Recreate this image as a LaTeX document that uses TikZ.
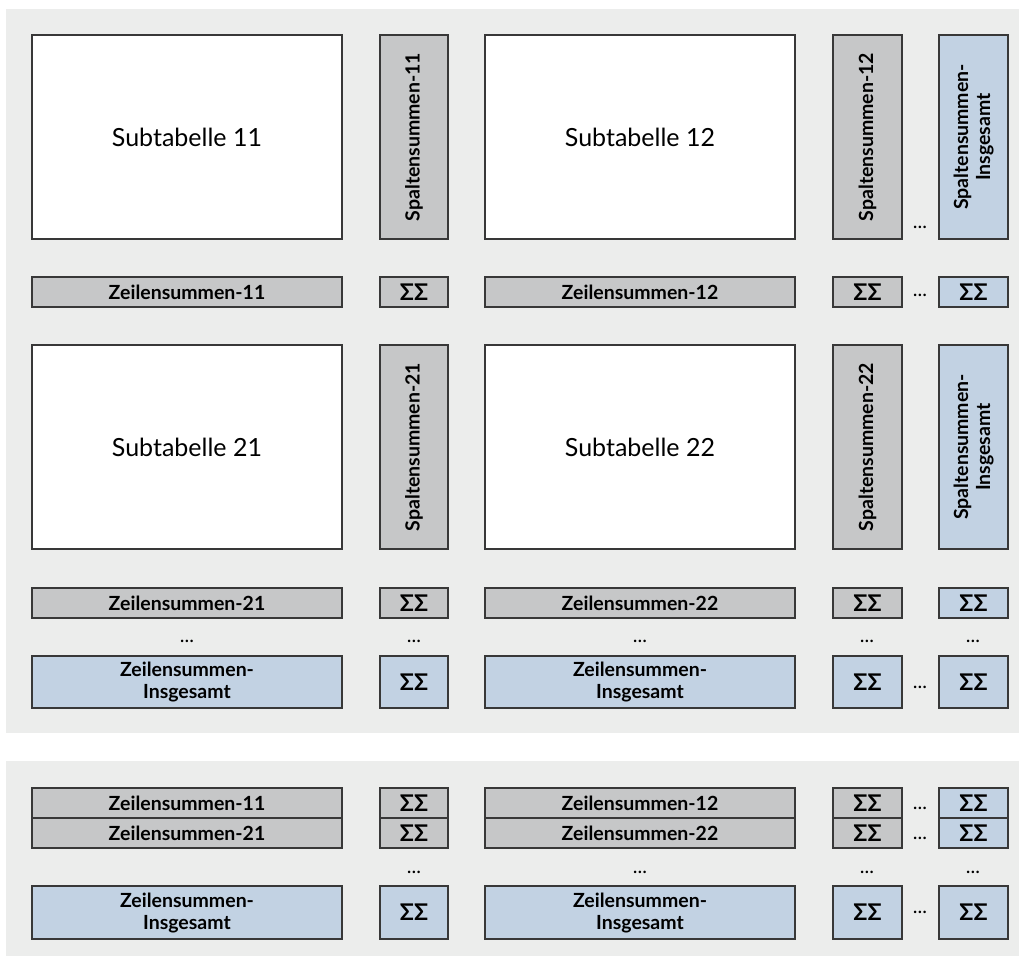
\documentclass[tikz,border=0pt]{standalone}
\usepackage{fontspec}
\setmainfont{Lato}
\definecolor{panel}{HTML}{ECEDEC}
\definecolor{grayfill}{HTML}{C6C7C8}
\definecolor{bluefill}{HTML}{C2D2E3}
\definecolor{edge}{HTML}{383838}
\newcommand{\bxn}[7]{\node[#6, minimum width={#4-#2}, minimum height={#5-#3}] (#1) at ({(#2+#4)/2},{(#3+#5)/2}) {#7};}
\newcommand{\vbxn}[7]{\node[#6, rotate=90, minimum width={#5-#3}, minimum height={#4-#2}] (#1) at ({(#2+#4)/2},{(#3+#5)/2}) {#7};}
\newcommand{\sg}{{\fontsize{23}{23}\selectfont ΣΣ}}
\tikzset{
  boxbase/.style={draw=edge, line width=1.4pt, inner sep=0pt, outer sep=0pt, align=center},
  subbox/.style={boxbase, fill=white, font=\fontsize{25}{30}\selectfont},
  graybox/.style={boxbase, fill=grayfill, font=\fontsize{19.5}{22}\selectfont\bfseries},
  bluebox/.style={boxbase, fill=bluefill, font=\fontsize{19.5}{22}\selectfont\bfseries},
  dotsnode/.style={inner sep=0pt, font=\fontsize{20}{20}\selectfont},
}
\begin{document}
\begin{tikzpicture}[x=1pt, y=-1pt]
\useasboundingbox (0,0) rectangle (1019,956);
\fill[panel] (6,9) rectangle (1019,733);
\fill[panel] (6,761) rectangle (1019,956);
% Row 1
\bxn{s11}{32}{35}{342}{239}{subbox}{Subtabelle 11}
\vbxn{sp11}{380}{35}{448}{239}{graybox}{Spaltensummen-11}
\bxn{s12}{485}{35}{795}{239}{subbox}{Subtabelle 12}
\vbxn{sp12}{833}{35}{902}{239}{graybox}{Spaltensummen-12}
\vbxn{spi1}{939}{35}{1008}{239}{bluebox}{Spaltensummen-\\Insgesamt}
\node[dotsnode] (d1) at (920,227) {...};
% Row Z1
\bxn{z11}{32}{277}{342}{307}{graybox}{Zeilensummen-11}
\bxn{q11}{380}{277}{448}{307}{graybox}{\sg}
\bxn{z12}{485}{277}{795}{307}{graybox}{Zeilensummen-12}
\bxn{q12}{833}{277}{902}{307}{graybox}{\sg}
\node[dotsnode] (d2) at (920,295) {...};
\bxn{q1i}{939}{277}{1008}{307}{bluebox}{\sg}
% Row 2
\bxn{s21}{32}{345}{342}{549}{subbox}{Subtabelle 21}
\vbxn{sp21}{380}{345}{448}{549}{graybox}{Spaltensummen-21}
\bxn{s22}{485}{345}{795}{549}{subbox}{Subtabelle 22}
\vbxn{sp22}{833}{345}{902}{549}{graybox}{Spaltensummen-22}
\vbxn{spi2}{939}{345}{1008}{549}{bluebox}{Spaltensummen-\\Insgesamt}
% Row Z2
\bxn{z21}{32}{588}{342}{618}{graybox}{Zeilensummen-21}
\bxn{q21}{380}{588}{448}{618}{graybox}{\sg}
\bxn{z22}{485}{588}{795}{618}{graybox}{Zeilensummen-22}
\bxn{q22}{833}{588}{902}{618}{graybox}{\sg}
\bxn{q2i}{939}{588}{1008}{618}{bluebox}{\sg}
% dots row
\node[dotsnode] (d3a) at (187,641) {...};
\node[dotsnode] (d3b) at (414,641) {...};
\node[dotsnode] (d3c) at (640,641) {...};
\node[dotsnode] (d3d) at (867,641) {...};
\node[dotsnode] (d3e) at (973,641) {...};
% Row Insgesamt
\bxn{zi1}{32}{656}{342}{708}{bluebox}{Zeilensummen-\\Insgesamt}
\bxn{qi1}{380}{656}{448}{708}{bluebox}{\sg}
\bxn{zi2}{485}{656}{795}{708}{bluebox}{Zeilensummen-\\Insgesamt}
\bxn{qi2}{833}{656}{902}{708}{bluebox}{\sg}
\node[dotsnode] (d4) at (920,687) {...};
\bxn{qii}{939}{656}{1008}{708}{bluebox}{\sg}
% Panel 2
\bxn{pz11}{32}{788}{342}{818}{graybox}{Zeilensummen-11}
\bxn{pq11}{380}{788}{448}{818}{graybox}{\sg}
\bxn{pz12}{485}{788}{795}{818}{graybox}{Zeilensummen-12}
\bxn{pq12}{833}{788}{902}{818}{graybox}{\sg}
\node[dotsnode] (pd1) at (920,808) {...};
\bxn{pq1i}{939}{788}{1008}{818}{bluebox}{\sg}
\bxn{pz21}{32}{818}{342}{848}{graybox}{Zeilensummen-21}
\bxn{pq21}{380}{818}{448}{848}{graybox}{\sg}
\bxn{pz22}{485}{818}{795}{848}{graybox}{Zeilensummen-22}
\bxn{pq22}{833}{818}{902}{848}{graybox}{\sg}
\node[dotsnode] (pd2) at (920,838) {...};
\bxn{pq2i}{939}{818}{1008}{848}{bluebox}{\sg}
\node[dotsnode] (pd3b) at (414,872) {...};
\node[dotsnode] (pd3c) at (640,872) {...};
\node[dotsnode] (pd3d) at (867,872) {...};
\node[dotsnode] (pd3e) at (973,872) {...};
\bxn{pzi1}{32}{886}{342}{939}{bluebox}{Zeilensummen-\\Insgesamt}
\bxn{pqi1}{380}{886}{448}{939}{bluebox}{\sg}
\bxn{pzi2}{485}{886}{795}{939}{bluebox}{Zeilensummen-\\Insgesamt}
\bxn{pqi2}{833}{886}{902}{939}{bluebox}{\sg}
\node[dotsnode] (pd4) at (920,912) {...};
\bxn{pqii}{939}{886}{1008}{939}{bluebox}{\sg}
\end{tikzpicture}
\end{document}
